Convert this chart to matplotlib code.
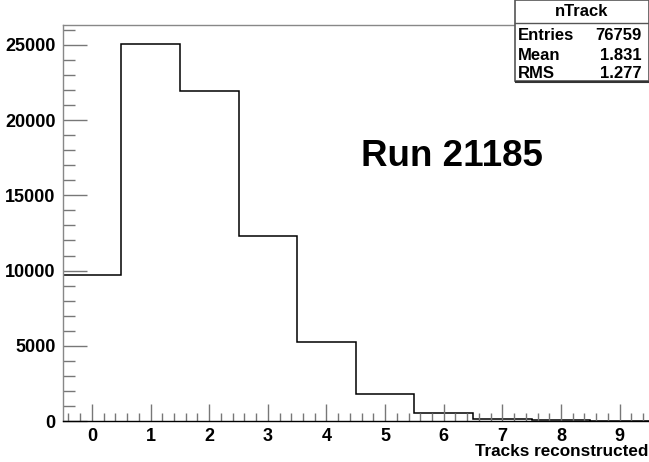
import numpy as np
import matplotlib
matplotlib.use("Agg")
import matplotlib.pyplot as plt
from matplotlib.patches import Rectangle
from matplotlib.lines import Line2D
from matplotlib.ticker import MultipleLocator

plt.rcParams['font.family'] = ['Liberation Sans', 'DejaVu Sans']
plt.rcParams['font.weight'] = 'bold'

# histogram of reconstructed tracks per event
n_tracks = [0, 1, 2, 3, 4, 5, 6, 7, 8, 9]
counts = [9680, 25050, 21950, 12310, 5230, 1810, 530, 150, 45, 10]
x_ticks = [0, 1, 2, 3, 4, 5, 6, 7, 8, 9]
y_ticks = [0, 5000, 10000, 15000, 20000, 25000]

stats_labels = ['Entries', 'Mean', 'RMS']
stats_values = ['76759', '1.831', '1.277']

W, H = 649, 462
fig = plt.figure(figsize=(W / 100, H / 100), dpi=100)
ax = fig.add_axes([62.6 / W, 1 - 421 / H, 1 - 62.6 / W, (421 - 25.3) / H])

edges = np.arange(len(n_tracks) + 1) - 0.5
ax.stairs(counts, edges, color='black', linewidth=1.1)

ax.set_xlim(-0.5, 9.5)
ax.set_ylim(0, 1.05 * max(counts))

ax.xaxis.set_minor_locator(MultipleLocator(0.2))
ax.yaxis.set_minor_locator(MultipleLocator(1000))
ax.set_xticks(x_ticks)
ax.set_yticks(y_ticks)

ax.tick_params(axis='both', which='both', direction='in', colors='#777777',
               labelcolor='black', labelsize=13, width=1)
ax.tick_params(axis='x', which='major', length=12, pad=5)
ax.tick_params(axis='x', which='minor', length=6)
ax.tick_params(axis='y', which='major', length=17, pad=5)
ax.tick_params(axis='y', which='minor', length=8.5)
for lab in ax.get_xticklabels() + ax.get_yticklabels():
    lab.set_fontweight('bold')

for side in ['left', 'bottom', 'top']:
    ax.spines[side].set_color('#888888')
    ax.spines[side].set_linewidth(1)
ax.spines['bottom'].set_color('black')
ax.spines['right'].set_visible(False)

fig.text(648 / W, 1 - 452 / H, 'Tracks reconstructed', ha='right', va='center',
         fontsize=12.3, fontweight='bold')
fig.text(452 / W, 1 - 157 / H, 'Run 21185', ha='center', va='center',
         fontsize=26.5, fontweight='bold')

# stats box
bx0, bx1, by0, by1 = 515, 649, 0, 81
fig.patches.append(Rectangle((bx0 / W, 1 - by1 / H), (bx1 - bx0) / W, (by1 - by0) / H,
                             transform=fig.transFigure, facecolor='white',
                             edgecolor='#555555', linewidth=1.2, zorder=5))
fig.lines.append(Line2D([bx0 / W, bx1 / W], [1 - 23 / H, 1 - 23 / H],
                        transform=fig.transFigure, color='#555555', linewidth=1, zorder=6))
fig.lines.append(Line2D([bx0 / W + 0.002, bx1 / W], [1 - 82 / H, 1 - 82 / H],
                        transform=fig.transFigure, color='#333333', linewidth=1.5, zorder=6))
fig.text((bx0 + bx1) / 2 / W, 1 - 11 / H, 'nTrack', ha='center', va='center',
         fontsize=12, fontweight='bold', zorder=7)
row_y = [36, 55, 73]
for lab, val, yy in zip(stats_labels, stats_values, row_y):
    fig.text(518 / W, 1 - yy / H, lab, ha='left', va='center',
             fontsize=12, fontweight='bold', zorder=7)
    fig.text(642 / W, 1 - yy / H, val, ha='right', va='center',
             fontsize=12, fontweight='bold', zorder=7)

fig.savefig('out.png', dpi=100)
